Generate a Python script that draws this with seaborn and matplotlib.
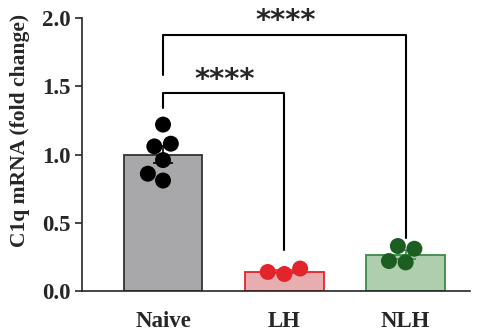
import numpy as np
import pandas as pd
import matplotlib
matplotlib.use('Agg')
import matplotlib.pyplot as plt
import seaborn as sns

# data
groups = ['Naive', 'LH', 'NLH']
naive_vals = [1.22, 1.08, 1.06, 0.96, 0.81, 0.86]
lh_vals = [0.125, 0.165, 0.14]
nlh_vals = [0.31, 0.33, 0.22, 0.21]

fill_colors = ['#a7a7ab', '#f2a3a5', '#a9d3a9']
edge_colors = ['#333333', '#e3242b', '#3d8b45']
dot_colors = ['#000000', '#e3242b', '#1c5e22']

data = pd.DataFrame({
    'group': ['Naive'] * len(naive_vals) + ['LH'] * len(lh_vals) + ['NLH'] * len(nlh_vals),
    'value': naive_vals + lh_vals + nlh_vals,
})

sns.set_style('ticks')
plt.rcParams['font.family'] = ['Liberation Serif', 'DejaVu Serif']
plt.rcParams['font.weight'] = 'bold'

fig = plt.figure(figsize=(4.83, 3.30), dpi=100)
ax = fig.add_axes([0.17, 0.118, 0.803, 0.827])

sns.barplot(data=data, x='group', y='value', order=groups, hue='group',
            palette=fill_colors, errorbar=None, width=0.65, legend=False, ax=ax)
for patch, ec in zip(ax.patches, edge_colors):
    patch.set_edgecolor(ec)
    patch.set_linewidth(1.3)

# mean +/- SEM
for i, g in enumerate(groups):
    vals = data.loc[data['group'] == g, 'value']
    sem = vals.std(ddof=1) / np.sqrt(len(vals))
    ax.errorbar(i, vals.mean(), yerr=sem, color=edge_colors[i] if i else 'black',
                capsize=7, elinewidth=1.2, capthick=1.2, zorder=4)

sns.swarmplot(data=data, x='group', y='value', order=groups, hue='group',
              palette=dot_colors, size=11.5, legend=False, ax=ax, zorder=5)

# significance brackets
def bracket(x1, x2, y, y1, y2, text, tx):
    ax.plot([x1, x1, x2, x2], [y1, y, y, y2], color='black', lw=1.5, clip_on=False)
    ax.text(tx, y + 0.10, text, ha='center', va='center',
            fontsize=21, fontweight='semibold', family='DejaVu Sans', clip_on=False)

bracket(0, 1, 1.45, 1.34, 0.30, '****', 0.51)
bracket(0, 2, 1.88, 1.58, 0.39, '****', 1.01)

ax.set_xlim(-0.667, 2.53)
ax.set_ylim(0, 2.0)
ax.set_yticks([0, 0.5, 1.0, 1.5, 2.0])
ax.set_yticklabels(['0.0', '0.5', '1.0', '1.5', '2.0'])
ax.set_xlabel('')
ax.set_ylabel('C1q mRNA (fold change)', fontsize=15.5, fontweight='bold')
ax.yaxis.set_label_coords(-0.135, 0.59)
ax.tick_params(axis='y', labelsize=16.5, width=1.2, length=5, pad=3)
ax.tick_params(axis='x', labelsize=16.5, length=0, pad=14)
for lab in ax.get_xticklabels() + ax.get_yticklabels():
    lab.set_fontweight('bold')
for s in ['left', 'bottom']:
    ax.spines[s].set_linewidth(1.2)
sns.despine(ax=ax)

fig.savefig('out.png', dpi=100)
